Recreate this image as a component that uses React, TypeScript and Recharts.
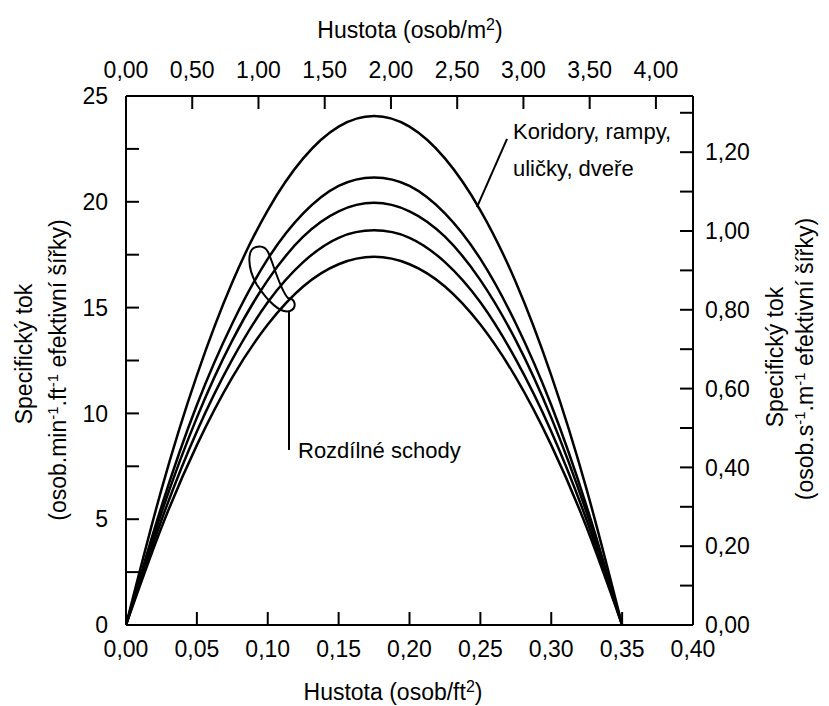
import React from 'react';
import { LineChart, Line, XAxis, YAxis, ReferenceLine, Customized } from 'recharts';

const densities = [0, 0.025, 0.05, 0.075, 0.1, 0.125, 0.15, 0.175, 0.2, 0.225, 0.25, 0.275, 0.3, 0.325, 0.35];
const corridor = [0, 6.4, 11.8, 16.2, 19.6, 22.05, 23.55, 24.05, 23.55, 22.05, 19.6, 16.2, 11.8, 6.4, 0];
const stairA = [0, 5.6, 10.4, 14.25, 17.3, 19.45, 20.75, 21.15, 20.75, 19.45, 17.3, 14.25, 10.4, 5.6, 0];
const stairB = [0, 5.3, 9.8, 13.45, 16.3, 18.35, 19.55, 19.95, 19.55, 18.35, 16.3, 13.45, 9.8, 5.3, 0];
const stairC = [0, 4.95, 9.15, 12.55, 15.25, 17.15, 18.3, 18.65, 18.3, 17.15, 15.25, 12.55, 9.15, 4.95, 0];
const stairD = [0, 4.6, 8.5, 11.7, 14.2, 16.0, 17.05, 17.4, 17.05, 16.0, 14.2, 11.7, 8.5, 4.6, 0];

const bottomTicks = [0, 0.05, 0.1, 0.15, 0.2, 0.25, 0.3, 0.35, 0.4];
const topTicksM2 = [0, 0.5, 1, 1.5, 2, 2.5, 3, 3.5, 4];
const leftTicks = [0, 2.5, 5, 7.5, 10, 12.5, 15, 17.5, 20, 22.5, 25];
const rightTicks = [0, 0.1, 0.2, 0.3, 0.4, 0.5, 0.6, 0.7, 0.8, 0.9, 1.0, 1.1, 1.2, 1.3];

// m² per ft² scale as drawn on the top axis, and s·m units on the right axis
const m2PerFt2 = 10.7;
const rightMax = 1.3426;

const topTicks = topTicksM2.map((v) => v / m2PerFt2);

const data = densities.map((d, i) => ({
  d,
  corridor: corridor[i],
  stairA: stairA[i],
  stairB: stairB[i],
  stairC: stairC[i],
  stairD: stairD[i],
}));

const FONT = 'Liberation Sans, Arial, sans-serif';
const FS = 23;
const comma = (v: number) => v.toFixed(2).replace('.', ',');
const tickStyle = { fontSize: FS, fill: '#000', fontFamily: FONT };
const axisLine = { stroke: '#000', strokeWidth: 2 };
const tickLine = { stroke: '#000', strokeWidth: 2 };

const Annotations = () => (
  <g fontFamily={FONT} fill="#000">
    <text x={410} y={38} fontSize={FS} textAnchor="middle">
      Hustota (osob/m<tspan dy={-8} fontSize={16}>2</tspan><tspan dy={8}>)</tspan>
    </text>
    <text x={393} y={700} fontSize={FS} textAnchor="middle">
      Hustota (osob/ft<tspan dy={-8} fontSize={16}>2</tspan><tspan dy={8}>)</tspan>
    </text>
    <text x={32} y={354} fontSize={FS} textAnchor="middle" transform="rotate(-90, 32, 354)">
      Specifický tok
    </text>
    <text x={66} y={370} fontSize={FS} textAnchor="middle" transform="rotate(-90, 66, 370)">
      (osob.min<tspan dy={-8} fontSize={15}>-1</tspan><tspan dy={8}>.ft</tspan><tspan dy={-8} fontSize={15}>-1</tspan><tspan dy={8}> efektivní šířky)</tspan>
    </text>
    <text x={783} y={357} fontSize={FS} textAnchor="middle" transform="rotate(-90, 783, 357)">
      Specifický tok
    </text>
    <text x={813} y={359} fontSize={FS} textAnchor="middle" transform="rotate(-90, 813, 359)">
      (osob.s<tspan dy={-8} fontSize={15}>-1</tspan><tspan dy={8}>.m</tspan><tspan dy={-8} fontSize={15}>-1</tspan><tspan dy={8}> efektivní šířky)</tspan>
    </text>
    <text x={513} y={139} fontSize={22}>Koridory, rampy,</text>
    <text x={513} y={176} fontSize={22}>uličky, dveře</text>
    <text x={298} y={458} fontSize={22}>Rozdílné schody</text>
    <path
      d="M 256 247 C 247 249, 247 268, 257 285 C 267 300, 280 314, 290 311 C 297 308, 296 299, 288 298 C 280 290, 273 262, 268 252 C 265 246, 260 246, 256 247 Z"
      fill="none"
      stroke="#000"
      strokeWidth={2}
    />
  </g>
);

export default function App() {
  return (
    <div style={{ position: 'absolute', left: 0, top: 0, background: '#fff' }}>
      <LineChart width={829} height={706} data={data} margin={{ top: 0, right: 0, bottom: 0, left: 0 }}>
        <XAxis
          xAxisId="bottom"
          dataKey="d"
          type="number"
          orientation="bottom"
          domain={[0, 0.4]}
          ticks={bottomTicks}
          tickFormatter={comma}
          height={81}
          tickSize={-13}
          tickMargin={29}
          tick={tickStyle}
          axisLine={axisLine}
          tickLine={tickLine}
          interval={0}
          allowDataOverflow
        />
        <XAxis
          xAxisId="top"
          dataKey="d"
          type="number"
          orientation="top"
          domain={[0, 0.4]}
          ticks={topTicks}
          tickFormatter={(v: number) => comma(Math.round(v * m2PerFt2 * 100) / 100)}
          height={96}
          tickSize={-13}
          tickMargin={31}
          tick={tickStyle}
          axisLine={axisLine}
          tickLine={tickLine}
          interval={0}
          allowDataOverflow
        />
        <YAxis
          yAxisId="left"
          type="number"
          orientation="left"
          domain={[0, 25]}
          ticks={leftTicks}
          tickFormatter={(v: number) => (v % 5 === 0 ? String(v) : '')}
          width={126}
          tickSize={-13}
          tickMargin={31}
          tick={tickStyle}
          axisLine={axisLine}
          tickLine={tickLine}
          interval={0}
          allowDataOverflow
        />
        <YAxis
          yAxisId="right"
          type="number"
          orientation="right"
          domain={[0, rightMax]}
          ticks={rightTicks}
          tickFormatter={(v: number) => (Math.round(v * 10) % 2 === 0 ? comma(v) : '')}
          width={136}
          tickSize={-13}
          tickMargin={25}
          tick={tickStyle}
          axisLine={axisLine}
          tickLine={tickLine}
          interval={0}
          allowDataOverflow
        />
        {['corridor', 'stairA', 'stairB', 'stairC', 'stairD'].map((k) => (
          <Line
            key={k}
            xAxisId="bottom"
            yAxisId="left"
            dataKey={k}
            type="natural"
            stroke="#000"
            strokeWidth={2.5}
            dot={false}
            activeDot={false}
            isAnimationActive={false}
          />
        ))}
        <ReferenceLine
          xAxisId="bottom"
          yAxisId="left"
          segment={[{ x: 0.2476, y: 19.75 }, { x: 0.2688, y: 22.97 }]}
          stroke="#000"
          strokeWidth={2}
        />
        <ReferenceLine
          xAxisId="bottom"
          yAxisId="left"
          segment={[{ x: 0.115, y: 14.79 }, { x: 0.115, y: 8.27 }]}
          stroke="#000"
          strokeWidth={2}
        />
        <Customized component={Annotations} />
      </LineChart>
    </div>
  );
}
